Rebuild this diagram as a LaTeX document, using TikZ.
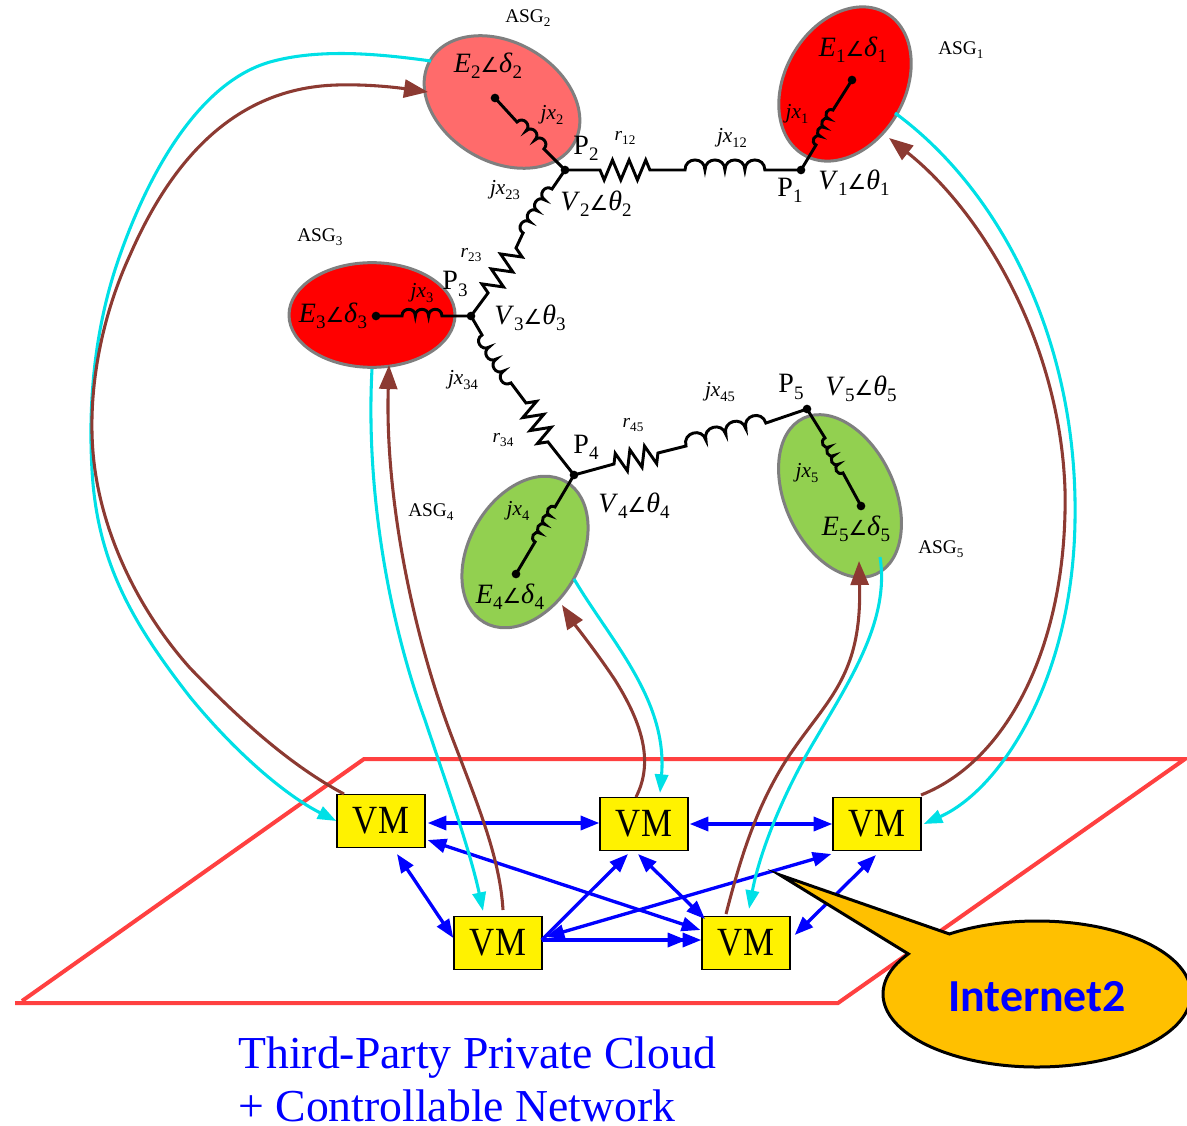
\documentclass[tikz,border=0pt]{standalone}
\usepackage{fontspec}
\setmainfont{Liberation Serif}
\newfontfamily\calfont{Carlito}
\newfontfamily\symfont{DejaVu Sans}
\usetikzlibrary{arrows.meta,decorations,shapes.geometric,shapes.callouts}
\pgfdeclaredecoration{humps}{hump}{
  \state{hump}[width={0.998*\pgfdecoratedpathlength/\humpN}]{
    \pgfmathsetlengthmacro\humpL{0.998*\pgfdecoratedpathlength/\humpN}
    \pgfmathsetlengthmacro\humpC{0.998*\pgfdecoratedpathlength/\humpN*0.67}
    \pgfpathcurveto{\pgfqpoint{0pt}{\humpC}}{\pgfqpoint{\humpL}{\humpC}}{\pgfqpoint{\humpL}{0pt}}
  }
  \state{final}{\pgfpathlineto{\pgfpointdecoratedpathlast}}
}
\pgfdeclaredecoration{zags}{zag}{
  \state{zag}[width={0.998*\pgfdecoratedpathlength/3}]{
    \pgfmathsetlengthmacro\zagL{0.998*\pgfdecoratedpathlength/3}
    \pgfpathlineto{\pgfqpoint{0.25\dimexpr\zagL\relax}{\pgfdecorationsegmentamplitude}}
    \pgfpathlineto{\pgfqpoint{0.75\dimexpr\zagL\relax}{-\pgfdecorationsegmentamplitude}}
    \pgfpathlineto{\pgfqpoint{\zagL}{0pt}}
  }
  \state{final}{\pgfpathlineto{\pgfpointdecoratedpathlast}}
}
\newcommand\fsz[1]{\fontsize{#1}{#1}\selectfont}
\newcommand\lowr[1]{\raisebox{-.22em}{\scalebox{.68}{#1}}}
\newcommand\phasor[3]{\textit{#1}\lowr{#2}{\symfont\scalebox{.74}{∠}}\textit{#3}\lowr{#2}}
\newcommand\elem[2]{\textit{#1}\lowr{#2}}
\definecolor{linkcyan}{HTML}{00E0E6}
\definecolor{linkbrown}{HTML}{8C3A32}
\definecolor{cloudred}{HTML}{FF4040}
\definecolor{genpink}{HTML}{FF6B6B}
\definecolor{gengreen}{HTML}{92D050}
\definecolor{genedge}{HTML}{7F7F7F}
\definecolor{bubble}{HTML}{FFC000}
\tikzset{
  gen/.style={ellipse,draw=genedge,line width=2.25pt,inner sep=0pt},
  wire/.style={draw=black,line width=2.2pt,line join=miter},
  ind/.style={/utils/exec={\def\humpN{#1}},decoration={humps}},
  indm/.style={/utils/exec={\def\humpN{#1}},decoration={humps,mirror}},
  resis/.style={decoration={zags,amplitude=7.5pt}},
  resism/.style={decoration={zags,amplitude=7.5pt,mirror}},
  busdot/.style={circle,fill=black,inner sep=0pt,minimum size=6.5pt},
  vm/.style={draw=black,fill=yellow,line width=1pt,minimum width=66pt,minimum height=39.5pt,inner sep=0pt,font=\fsz{30pt}},
  vmlink/.style={draw=blue,line width=2.5pt,{Triangle[length=14pt,width=10.5pt]}-{Triangle[length=14pt,width=10.5pt]}},
  vmone/.style={draw=blue,line width=2.5pt,-{Triangle[length=14pt,width=10.5pt]}},
  tocyan/.style={draw=linkcyan,line width=2.3pt,-{Triangle[length=14pt,width=10pt]}},
  tobrown/.style={draw=linkbrown,line width=2.3pt,-{Triangle[length=18pt,width=13.5pt]}},
  asg/.style={font=\fsz{14.5pt},inner sep=0pt,anchor=west},
  big/.style={font=\fsz{21pt},inner sep=0pt},
  small/.style={font=\fsz{16pt},inner sep=0pt},
  smallr/.style={font=\fsz{14.5pt},inner sep=0pt},
  cloudtext/.style={font=\fsz{34.3pt},text=blue,inner sep=0pt,anchor=base west},
}
\begin{document}
\begin{tikzpicture}[x=0.75pt,y=-0.75pt]
\useasboundingbox (0,0) rectangle (1187,1126);
% cloud plane
\draw[cloudred,line width=3pt,line join=miter] (22,1001) -- (364,759) -- (1185,759) -- (838,1003) -- (15,1003);
% generators
\node[gen,fill=red,minimum width=123pt,minimum height=90pt,rotate=60] (e1) at (845,84) {};
\node[gen,fill=genpink,minimum width=124.5pt,minimum height=89.5pt,rotate=-30] (e2) at (502,102) {};
\node[gen,fill=red,minimum width=124.5pt,minimum height=78.5pt] (e3) at (372,315) {};
\node[gen,fill=gengreen,minimum width=122pt,minimum height=83.5pt,rotate=60] (e4) at (525,552) {};
\node[gen,fill=gengreen,minimum width=129pt,minimum height=82pt,rotate=-65] (e5) at (840,496) {};
% buses
\node[busdot] (p1) at (801,170) {};
\node[busdot] (p2) at (565,170) {};
\node[busdot] (p3) at (471,316) {};
\node[busdot] (p4) at (574,475) {};
\node[busdot] (p5) at (807,409) {};
\node[busdot] (d1) at (852,80) {};
\node[busdot] (d2) at (495,98) {};
\node[busdot] (d3) at (376,316) {};
\node[busdot] (d4) at (516,574) {};
\node[busdot] (d5) at (861,506) {};
% network lines
\draw[wire] (p2.center) -- (600,170) decorate[resism]{-- (650,170)} -- (685,170) decorate[ind=4]{-- (765,170)} -- (p1.center);
\draw[wire] (p2.center) -- (552,189) decorate[indm=4]{-- (523,233)} -- (516,248) decorate[resis]{-- (488,293)} -- (p3.center);
\draw[wire] (p3.center) -- (482,335) decorate[indm=4]{-- (511,383)} -- (526,403) decorate[resis]{-- (548,442)} -- (p4.center);
\draw[wire] (p4.center) -- (614,464) decorate[resis]{-- (658,453)} -- (686,446) decorate[ind=4]{-- (766,423)} -- (p5.center);
\draw[wire] (p1.center) -- (816,145) decorate[ind=4]{-- (833,110)} -- (d1.center);
\draw[wire] (d2.center) -- (517,122) decorate[ind=3]{-- (544,149)} -- (p2.center);
\draw[wire] (d3.center) -- (402,316) decorate[ind=3]{-- (442,316)} -- (p3.center);
\draw[wire] (p4.center) -- (555,507) decorate[indm=4]{-- (535,542)} -- (d4.center);
\draw[wire] (p5.center) -- (825,438) decorate[indm=4]{-- (843,473)} -- (d5.center);
% VMs
\node[vm] (vmA) at (381,821) {\scalebox{.87}[1]{VM}};
\node[vm] (vmB) at (644,824) {\scalebox{.87}[1]{VM}};
\node[vm] (vmC) at (877,824) {\scalebox{.87}[1]{VM}};
\node[vm] (vmD) at (498,943) {\scalebox{.87}[1]{VM}};
\node[vm] (vmE) at (746,943) {\scalebox{.87}[1]{VM}};
% VM links
\draw[vmlink] ([shift={(2,2)}]vmA.east) -- ([shift={(0,-1)}]vmB.west);
\draw[vmlink] ([shift={(1,0)}]vmB.east) -- (vmC.west);
\draw[vmlink] ([shift={(2,19)}]vmA.east) -- ([shift={(-1,-13)}]vmE.west);
\draw[vmlink] ([shift={(16,6)}]vmA.south) -- ([shift={(0,-5)}]vmD.west);
\draw[vmlink] ([shift={(-6,3)}]vmB.south) -- ([shift={(-41,3)}]vmE.north);
\draw[vmlink] ([shift={(-1,4)}]vmC.south) -- ([shift={(4,-8)}]vmE.east);
\draw[vmone] ([shift={(-1,-3)}]vmD.east) -- ([shift={(-16,3)}]vmB.south);
\draw[vmone] ([shift={(-1,-3)}]vmD.east) -- ([shift={(0,-3)}]vmE.west);
\draw[vmone] ([shift={(-1,-3)}]vmD.east) -- ([shift={(-15,-3)}]vmE.west);
\draw[vmlink] ([shift={(3,-6)}]vmD.east) -- ([shift={(-1,3)}]vmC.south west);
% uplinks
\draw[tocyan] ([shift={(-71,-41)}]e2.center) .. controls (380,54) and (320,48) .. (270,62) .. controls (200,82) and (150,170) .. (120,255) .. controls (95,325) and (88,400) .. (92,470) .. controls (97,560) and (130,620) .. (190,697) .. controls (235,752) and (285,795) .. (vmA.west);
\draw[tobrown] ([shift={(-37,0)}]vmA.north) .. controls (290,765) and (240,720) .. (190,668) .. controls (140,612) and (105,540) .. (95,470) .. controls (85,400) and (100,320) .. (130,255) .. controls (165,175) and (225,88) .. (337,85) .. controls (370,84) and (400,88) .. ([shift={(-74,-10)}]e2.center);
\draw[tocyan] (e3.south) .. controls (366,480) and (385,610) .. (425,720) .. controls (445,780) and (470,850) .. ([shift={(-15,-5)}]vmD.north);
\draw[tobrown] ([shift={(5,-6)}]vmD.north) .. controls (500,860) and (480,810) .. (455,745) .. controls (410,630) and (385,490) .. ([shift={(17,50)}]e3.center);
\draw[tocyan] ([shift={(49,27)}]e4.center) .. controls (610,640) and (668,700) .. ([shift={(16,-4)}]vmB.north);
\draw[tobrown] ([shift={(-8,0)}]vmB.north) .. controls (655,760) and (640,720) .. (615,680) .. controls (595,650) and (575,625) .. ([shift={(37,53)}]e4.center);
\draw[tocyan] ([shift={(40,61)}]e5.center) .. controls (890,620) and (850,680) .. (815,740) .. controls (785,790) and (760,850) .. ([shift={(3,-7)}]vmE.north);
\draw[tobrown] ([shift={(-20,-2)}]vmE.north) .. controls (740,860) and (755,810) .. (785,762) .. controls (825,700) and (862,680) .. ([shift={(19,65)}]e5.center);
\draw[tocyan] ([shift={(50,29)}]e1.center) .. controls (1000,190) and (1078,340) .. (1075,520) .. controls (1073,680) and (1000,790) .. ([shift={(2,0)}]vmC.east);
\draw[tobrown] ([shift={(44,-2)}]vmC.north) .. controls (1010,760) and (1068,640) .. (1065,490) .. controls (1060,340) and (980,210) .. ([shift={(44,54)}]e1.center);
% Internet2 bubble
\node[ellipse callout,draw=black,fill=bubble,line width=2.25pt,minimum width=231pt,minimum height=109.5pt,inner sep=0pt,callout absolute pointer={(780,875)},callout pointer arc=22,font=\calfont\bfseries\fsz{34.4pt},text=blue] (inet) at (1037,994) {\raisebox{-13pt}[0pt][0pt]{Internet2}};
% labels
\node[asg] (asg1) at (938,50) {ASG\lowr{1}};
\node[asg] (asg2) at (505,18) {ASG\lowr{2}};
\node[asg] (asg3) at (297,237) {ASG\lowr{3}};
\node[asg] (asg4) at (408,512) {ASG\lowr{4}};
\node[asg] (asg5) at (918,549) {ASG\lowr{5}};
\node[big] (le1) at (853,50) {\phasor{E}{1}{δ}};
\node[big] (le2) at (488,66) {\phasor{E}{2}{δ}};
\node[big] (le3) at (333,316) {\phasor{E}{3}{δ}};
\node[big] (le4) at (510,597) {\phasor{E}{4}{δ}};
\node[big] (le5) at (856,529) {\phasor{E}{5}{δ}};
\node[big] (lv1) at (854,183) {\phasor{V}{1}{θ}};
\node[big] (lv2) at (596,204) {\phasor{V}{2}{θ}};
\node[big] (lv3) at (530,318) {\phasor{V}{3}{θ}};
\node[big] (lv4) at (634,506) {\phasor{V}{4}{θ}};
\node[big] (lv5) at (861,389) {\phasor{V}{5}{θ}};
\node[big] (lp1) at (790,190) {P\lowr{1}};
\node[big] (lp2) at (586,148) {P\lowr{2}};
\node[big] (lp3) at (455,284) {P\lowr{3}};
\node[big] (lp4) at (586,447) {P\lowr{4}};
\node[big] (lp5) at (791,387) {P\lowr{5}};
\node[smallr] (lr12) at (625,138) {\elem{r}{12}};
\node[small] (lx12) at (732,138) {\elem{jx}{12}};
\node[small] (lx1) at (797,114) {\elem{jx}{1}};
\node[small] (lx2) at (552,115) {\elem{jx}{2}};
\node[small] (lx23) at (505,190) {\elem{jx}{23}};
\node[smallr] (lr23) at (471,255) {\elem{r}{23}};
\node[small] (lx3) at (422,293) {\elem{jx}{3}};
\node[small] (lx34) at (463,380) {\elem{jx}{34}};
\node[smallr] (lr34) at (503,440) {\elem{r}{34}};
\node[smallr] (lr45) at (633,425) {\elem{r}{45}};
\node[small] (lx45) at (720,392) {\elem{jx}{45}};
\node[small] (lx4) at (518,511) {\elem{jx}{4}};
\node[small] (lx5) at (807,473) {\elem{jx}{5}};
\node[cloudtext] (t1) at (238,1068) {Third-Party Private Cloud};
\node[cloudtext] (t2) at (238,1121) {+ Controllable Network};
\end{tikzpicture}
\end{document}
